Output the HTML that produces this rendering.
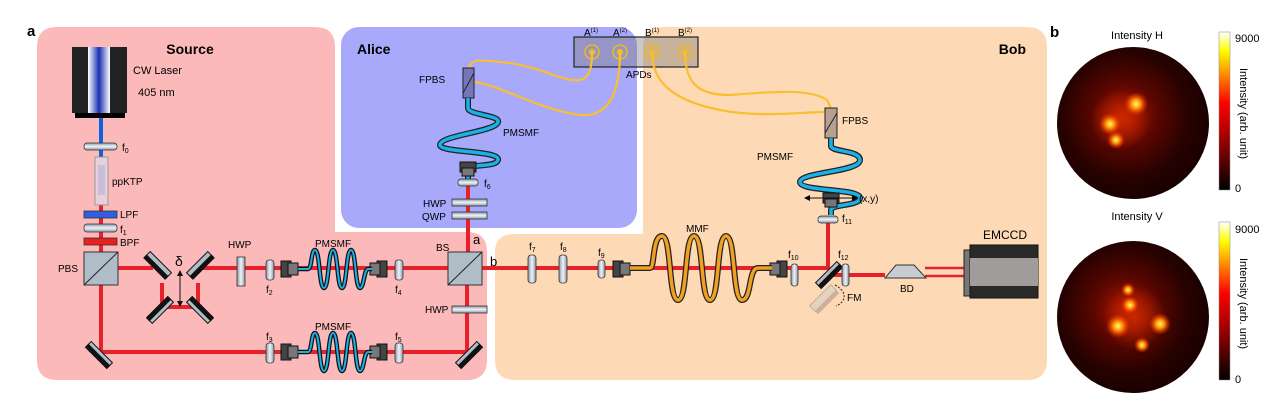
<!DOCTYPE html>
<html><head><meta charset="utf-8"><style>
html,body{margin:0;padding:0;background:#fff;}
svg{display:block;font-family:"Liberation Sans",sans-serif;}
</style></head><body>
<svg width="1277" height="405" viewBox="0 0 1277 405" xmlns="http://www.w3.org/2000/svg">
<defs>
<linearGradient id="lg" x1="0" x2="1"><stop offset="0" stop-color="#8a96a6"/><stop offset=".5" stop-color="#f0f4f8"/><stop offset="1" stop-color="#8a96a6"/></linearGradient>
<linearGradient id="lgv" x1="0" y1="0" x2="0" y2="1"><stop offset="0" stop-color="#8a96a6"/><stop offset=".5" stop-color="#f0f4f8"/><stop offset="1" stop-color="#8a96a6"/></linearGradient>
<linearGradient id="laser" x1="0" x2="1"><stop offset="0" stop-color="#fff"/><stop offset=".5" stop-color="#1a2fb0"/><stop offset="1" stop-color="#fff"/></linearGradient>
<linearGradient id="cb" x1="0" y1="1" x2="0" y2="0"><stop offset="0" stop-color="#000"/><stop offset=".35" stop-color="#a00"/><stop offset=".55" stop-color="#f00"/><stop offset=".75" stop-color="#f90"/><stop offset=".88" stop-color="#ff0"/><stop offset="1" stop-color="#fff"/></linearGradient>
<radialGradient id="sp1" cx="0.45" cy="0.45" r="0.6"><stop offset="0" stop-color="#b01800"/><stop offset=".35" stop-color="#5a0600"/><stop offset=".7" stop-color="#260200"/><stop offset="1" stop-color="#160000"/></radialGradient>
<radialGradient id="hot"><stop offset="0" stop-color="#ffff80"/><stop offset=".4" stop-color="#ff9000"/><stop offset="1" stop-color="#ff2000" stop-opacity="0"/></radialGradient>
<radialGradient id="warm"><stop offset="0" stop-color="#e03000" stop-opacity=".7"/><stop offset="1" stop-color="#e03000" stop-opacity="0"/></radialGradient>
</defs>
<path d="M57 27 H315 Q335 27 335 47 V232 H467 Q487 232 487 252 V360 Q487 380 467 380 H57 Q37 380 37 360 V47 Q37 27 57 27Z" fill="#fcb9b9"/>
<rect x="341" y="27" width="296" height="201" rx="18" fill="#a9a9fb"/>
<path d="M663 27 H1027 Q1047 27 1047 47 V360 Q1047 380 1027 380 H515 Q495 380 495 360 V252 Q495 234 515 234 H643 V47 Q643 27 663 27Z" fill="#fdd9b5"/>
<text x="27" y="36" font-size="15" font-weight="bold">a</text>
<text x="1050" y="37" font-size="15" font-weight="bold">b</text>
<text x="190" y="54" font-size="14" font-weight="bold" text-anchor="middle">Source</text>
<text x="357" y="54" font-size="14" font-weight="bold">Alice</text>
<text x="1026" y="54" font-size="14" font-weight="bold" text-anchor="end">Bob</text>
<rect x="574" y="37" width="124" height="30" fill="#777" fill-opacity=".4" stroke="#222" stroke-width="1.2"/>
<g fill="#f4c020" stroke="#f0b820" stroke-width="1.5"><g fill="none"><circle cx="592" cy="52" r="7"/><circle cx="620" cy="52" r="7"/><circle cx="652" cy="52" r="7"/><circle cx="685" cy="52" r="7"/></g>
<circle cx="592" cy="52" r="2.5"/><circle cx="620" cy="52" r="2.5"/><circle cx="652" cy="52" r="2.5"/><circle cx="685" cy="52" r="2.5"/></g>
<g font-size="10"><text x="584" y="36">A<tspan font-size="6" dy="-4">(1)</tspan></text><text x="613" y="36">A<tspan font-size="6" dy="-4">(2)</tspan></text><text x="645" y="36">B<tspan font-size="6" dy="-4">(1)</tspan></text><text x="678" y="36">B<tspan font-size="6" dy="-4">(2)</tspan></text>
<text x="626" y="78" font-size="10">APDs</text></g>
<g fill="none" stroke="#f8c030" stroke-width="2.2">
<path d="M469 70 C470 58 480 60 500 62 C540 65 560 82 580 80 C592 78 592 60 592 52"/>
<path d="M474 82 C500 85 540 110 580 115 C615 118 620 80 620 52"/>
<path d="M652 52 C652 80 670 100 720 110 C760 118 800 112 826 112"/>
<path d="M685 52 C685 85 700 95 730 95 C770 92 810 88 827 100 C830 105 831 110 831 110"/>
</g>
<rect x="463" y="68" width="11" height="30" fill="#7476b8" stroke="#222"/><line x1="463" y1="93" x2="474" y2="73" stroke="#222"/>
<rect x="825" y="108" width="12" height="30" fill="#b8a090" stroke="#222"/><line x1="825" y1="133" x2="837" y2="113" stroke="#222"/>
<text x="419" y="83" font-size="10">FPBS</text><text x="842" y="124" font-size="10">FPBS</text>
<g fill="none" stroke="#222" stroke-width="6"><path id="fa" d="M468 98 V108 C468 115 500 115 498 122 C496 132 440 135 440 145 C440 153 500 150 498 160 C496 168 468 163 468 170 V180"/>
<path id="fb" d="M831 138 V146 C831 152 860 150 860 160 C860 172 800 172 800 182 C800 192 860 188 860 198 C860 206 831 204 831 210 V215"/></g>
<g fill="none" stroke="#1ab0e8" stroke-width="3.5">
<path d="M468 98 V108 C468 115 500 115 498 122 C496 132 440 135 440 145 C440 153 500 150 498 160 C496 168 468 163 468 170 V180"/>
<path d="M831 138 V146 C831 152 860 150 860 160 C860 172 800 172 800 182 C800 192 860 188 860 198 C860 206 831 204 831 210 V215"/></g>
<text x="503" y="136" font-size="10">PMSMF</text><text x="757" y="160" font-size="10">PMSMF</text>
<g stroke="#e8202a" stroke-width="4" fill="none">
<path d="M101 205 V352 H467 V268"/>
<path d="M118 268 H153"/><path d="M195 268 H448"/>
<path d="M162 283 V307 H198 V283"/>
<path d="M468 252 V185"/>
<path d="M482 268 H828 V222"/>
<path d="M828 275 H885"/>
<path d="M925 268 H965 M925 276 H965" stroke-width="2.5"/>
</g>
<line x1="101" y1="118" x2="101" y2="205" stroke="#1060e0" stroke-width="4"/>
<rect x="72" y="47" width="55" height="66" fill="#222"/><rect x="88" y="47" width="22" height="66" fill="url(#laser)"/>
<rect x="75" y="113" width="50" height="5" fill="#000"/>
<text x="133" y="74" font-size="11">CW Laser</text><text x="138" y="96" font-size="11">405 nm</text>
<rect x="84" y="143" width="33" height="7" rx="3" fill="url(#lgv)" stroke="#333" stroke-width=".8"/><text x="122" y="151" font-size="10">f<tspan font-size="7" dy="2">0</tspan></text>
<rect x="95" y="157" width="13" height="48" fill="#e8d0d8" stroke="#999"/><rect x="98" y="165" width="7" height="30" fill="#b4b0e0" opacity=".6"/>
<text x="112" y="185" font-size="10">ppKTP</text>
<rect x="84" y="211" width="33" height="7" fill="#3060e0" stroke="#333" stroke-width=".8"/><text x="120" y="218" font-size="10">LPF</text>
<rect x="84" y="224" width="33" height="8" rx="3" fill="url(#lgv)" stroke="#333" stroke-width=".8"/><text x="120" y="233" font-size="10">f<tspan font-size="7" dy="2">1</tspan></text>
<rect x="84" y="238" width="33" height="7" fill="#e82020" stroke="#333" stroke-width=".8"/><text x="120" y="246" font-size="10">BPF</text>
<rect x="84" y="252" width="34" height="33" fill="#b0bcc8" stroke="#333"/><line x1="84" y1="285" x2="118" y2="252" stroke="#222"/>
<text x="58" y="272" font-size="10">PBS</text>
<rect x="448" y="252" width="34" height="33" fill="#b0bcc8" stroke="#333"/><line x1="448" y1="285" x2="482" y2="252" stroke="#222"/>
<text x="436" y="251" font-size="10">BS</text><text x="473" y="244" font-size="13">a</text><text x="490" y="266" font-size="13">b</text>
<g fill="#b0bcc8" stroke="#111" stroke-width="1">
<g transform="rotate(45 158 265)"><rect x="143" y="261" width="30" height="8"/><rect x="143" y="266" width="30" height="4" fill="#111"/></g>
<g transform="rotate(-45 200 265)"><rect x="185" y="261" width="30" height="8"/><rect x="185" y="266" width="30" height="4" fill="#111"/></g>
<g transform="rotate(-45 160 310)"><rect x="145" y="306" width="30" height="8"/><rect x="145" y="306" width="30" height="4" fill="#111"/></g>
<g transform="rotate(45 200 310)"><rect x="185" y="306" width="30" height="8"/><rect x="185" y="306" width="30" height="4" fill="#111"/></g>
<g transform="rotate(45 99 355)"><rect x="84" y="351" width="30" height="8"/><rect x="84" y="355" width="30" height="4" fill="#111"/></g>
<g transform="rotate(-45 469 355)"><rect x="454" y="351" width="30" height="8"/><rect x="454" y="355" width="30" height="4" fill="#111"/></g>
<g transform="rotate(-45 829 275)"><rect x="814" y="271" width="30" height="8"/><rect x="814" y="275" width="30" height="4" fill="#111"/></g>
</g>
<g transform="rotate(-45 823 298)" opacity=".5"><rect x="808" y="294" width="30" height="8" fill="#ccc" stroke="#888"/><rect x="808" y="302" width="30" height="4" fill="#a08880"/></g>
<line x1="180" y1="272" x2="180" y2="305" stroke="#111"/><path d="M177 276 L180 270 L183 276Z M177 301 L180 307 L183 301Z" fill="#111"/>
<text x="175" y="266" font-size="14">δ</text>
<path d="M835 285 C848 292 846 302 836 306" fill="none" stroke="#222" stroke-dasharray="2 1.5"/><text x="847" y="301" font-size="10">FM</text>
<rect x="237" y="257" width="8" height="29" fill="url(#lg)" stroke="#333" stroke-width=".8"/>
<text x="228" y="248" font-size="10">HWP</text>
<g fill="url(#lgv)" stroke="#333" stroke-width=".8"><rect x="452" y="306" width="35" height="7"/><rect x="452" y="199" width="35" height="7"/><rect x="452" y="212" width="35" height="7"/><rect x="458" y="179" width="20" height="7" rx="3"/><rect x="818" y="216" width="20" height="7" rx="3"/></g>
<text x="425" y="313" font-size="10">HWP</text><text x="423" y="207" font-size="10">HWP</text><text x="422" y="220" font-size="10">QWP</text>
<text x="484" y="187" font-size="10">f<tspan font-size="7" dy="2">6</tspan></text><text x="842" y="222" font-size="10">f<tspan font-size="7" dy="2">11</tspan></text>
<g fill="url(#lg)" stroke="#333" stroke-width=".8">
<rect x="266" y="260" width="8" height="20" rx="3"/><rect x="395" y="260" width="8" height="20" rx="3"/>
<rect x="266" y="343" width="8" height="20" rx="3"/><rect x="395" y="343" width="8" height="20" rx="3"/>
<rect x="528" y="255" width="8" height="28" rx="3"/><rect x="559" y="255" width="8" height="28" rx="3"/>
<rect x="598" y="260" width="7" height="18" rx="3"/><rect x="791" y="264" width="7" height="22" rx="3"/><rect x="842" y="264" width="7" height="22" rx="3"/>
</g>
<g font-size="10"><text x="266" y="293">f<tspan font-size="7" dy="2">2</tspan></text><text x="395" y="293">f<tspan font-size="7" dy="2">4</tspan></text>
<text x="266" y="340">f<tspan font-size="7" dy="2">3</tspan></text><text x="395" y="340">f<tspan font-size="7" dy="2">5</tspan></text>
<text x="529" y="250">f<tspan font-size="7" dy="2">7</tspan></text><text x="560" y="250">f<tspan font-size="7" dy="2">8</tspan></text><text x="598" y="256">f<tspan font-size="7" dy="2">9</tspan></text>
<text x="788" y="258">f<tspan font-size="7" dy="2">10</tspan></text><text x="838" y="258">f<tspan font-size="7" dy="2">12</tspan></text></g>
<g fill="#444" stroke="#111">
<rect x="281" y="261" width="10" height="16"/><rect x="288" y="263" width="10" height="12" fill="#777"/>
<rect x="377" y="261" width="10" height="16"/><rect x="370" y="263" width="10" height="12" fill="#777"/>
<rect x="281" y="344" width="10" height="16"/><rect x="288" y="346" width="10" height="12" fill="#777"/>
<rect x="377" y="344" width="10" height="16"/><rect x="370" y="346" width="10" height="12" fill="#777"/>
<rect x="613" y="261" width="10" height="16"/><rect x="620" y="263" width="10" height="12" fill="#777"/>
<rect x="777" y="261" width="10" height="16"/><rect x="770" y="263" width="10" height="12" fill="#777"/>
<rect x="460" y="162" width="16" height="10"/><rect x="462" y="168" width="12" height="8" fill="#777"/>
<rect x="823" y="193" width="16" height="10"/><rect x="825" y="199" width="12" height="8" fill="#777"/>
</g>
<line x1="806" y1="198" x2="856" y2="198" stroke="#111"/><path d="M810 195 L804 198 L810 201Z M852 195 L858 198 L852 201Z"/>
<text x="859" y="202" font-size="10">(x,y)</text>
<g fill="none" stroke="#111" stroke-width="4.5">
<path d="M298 269 H308 C312 269 311 250 315 250 C320 250 319 288 324 288 C329 288 328 250 333 250 C338 250 337 288 342 288 C347 288 346 250 351 250 C356 250 355 288 360 288 C364 288 364 269 368 269 H372"/>
<path d="M298 352 H308 C312 352 311 333 315 333 C320 333 319 371 324 371 C329 371 328 333 333 333 C338 333 337 371 342 371 C347 371 346 333 351 333 C356 333 355 371 360 371 C364 371 364 352 368 352 H372"/></g>
<g fill="none" stroke="#1ab0e8" stroke-width="2">
<path d="M298 269 H308 C312 269 311 250 315 250 C320 250 319 288 324 288 C329 288 328 250 333 250 C338 250 337 288 342 288 C347 288 346 250 351 250 C356 250 355 288 360 288 C364 288 364 269 368 269 H372"/>
<path d="M298 352 H308 C312 352 311 333 315 333 C320 333 319 371 324 371 C329 371 328 333 333 333 C338 333 337 371 342 371 C347 371 346 333 351 333 C356 333 355 371 360 371 C364 371 364 352 368 352 H372"/></g>
<text x="315" y="247" font-size="10">PMSMF</text><text x="315" y="330" font-size="10">PMSMF</text>
<path d="M630 268 H650 C655 268 652 236 662 236 C672 236 668 300 678 300 C688 300 684 236 694 236 C704 236 700 300 710 300 C720 300 716 236 726 236 C736 236 732 300 742 300 C752 300 748 268 758 268 H772" fill="none" stroke="#222" stroke-width="6"/>
<path d="M630 268 H650 C655 268 652 236 662 236 C672 236 668 300 678 300 C688 300 684 236 694 236 C704 236 700 300 710 300 C720 300 716 236 726 236 C736 236 732 300 742 300 C752 300 748 268 758 268 H772" fill="none" stroke="#f0a020" stroke-width="3.5"/>
<text x="686" y="232" font-size="10">MMF</text>
<path d="M885 278 L896 265 H914 L926 278Z" fill="#c8ccd0" stroke="#333"/><text x="900" y="292" font-size="10">BD</text>
<rect x="964" y="250" width="6" height="46" fill="#777" stroke="#222"/>
<rect x="970" y="245" width="68" height="53" fill="#2a2a2a" stroke="#111"/><rect x="970" y="258" width="68" height="28" fill="#a09c9a"/>
<text x="983" y="239" font-size="12">EMCCD</text>
<text x="1137" y="39" font-size="11" text-anchor="middle">Intensity H</text>
<text x="1137" y="220" font-size="11" text-anchor="middle">Intensity V</text>
<ellipse cx="1133" cy="123" rx="76" ry="76" fill="url(#sp1)"/>
<circle cx="1120" cy="120" r="30" fill="url(#warm)"/>
<circle cx="1136" cy="104" r="12" fill="url(#hot)"/><circle cx="1110" cy="124" r="11" fill="url(#hot)"/><circle cx="1116" cy="140" r="9" fill="url(#hot)"/>
<ellipse cx="1133" cy="317" rx="76" ry="76" fill="url(#sp1)"/>
<circle cx="1135" cy="318" r="32" fill="url(#warm)"/>
<circle cx="1130" cy="305" r="9" fill="url(#hot)"/><circle cx="1118" cy="326" r="12" fill="url(#hot)"/><circle cx="1160" cy="324" r="11" fill="url(#hot)"/><circle cx="1142" cy="345" r="8" fill="url(#hot)"/><circle cx="1128" cy="290" r="7" fill="url(#hot)"/>
<rect x="1219" y="32" width="11" height="158" fill="url(#cb)" stroke="#888" stroke-width=".5"/>
<rect x="1219" y="222" width="11" height="158" fill="url(#cb)" stroke="#888" stroke-width=".5"/>
<g font-size="11"><text x="1235" y="42">9000</text><text x="1235" y="192">0</text><text x="1235" y="233">9000</text><text x="1235" y="383">0</text></g>
<text transform="translate(1240,68) rotate(90)" font-size="11">Intensity (arb. unit)</text>
<text transform="translate(1240,258) rotate(90)" font-size="11">Intensity (arb. unit)</text>
</svg>
</body></html>
